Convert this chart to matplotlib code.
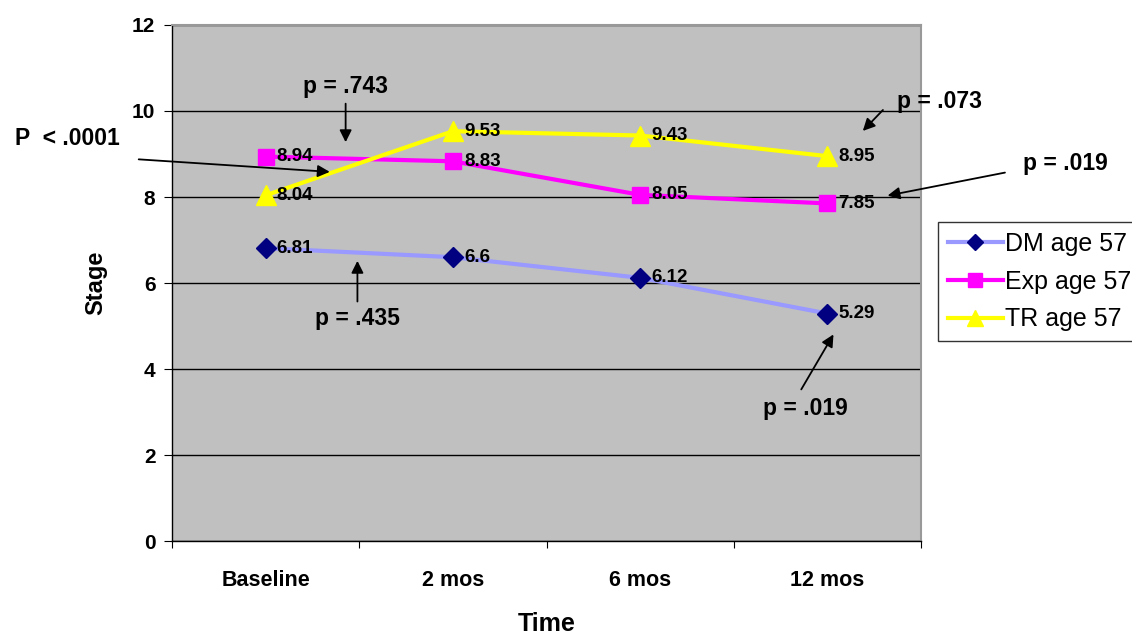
import matplotlib
matplotlib.use("Agg")
import matplotlib.pyplot as plt

plt.rcParams['font.family'] = ['Liberation Sans', 'DejaVu Sans']

categories = ["Baseline", "2 mos", "6 mos", "12 mos"]
dm = [6.81, 6.6, 6.12, 5.29]
exp = [8.94, 8.83, 8.05, 7.85]
tr = [8.04, 9.53, 9.43, 8.95]
series_names = ["DM age 57", "Exp age 57", "TR age 57"]
dm_labels = ["6.81", "6.6", "6.12", "5.29"]
exp_labels = ["8.94", "8.83", "8.05", "7.85"]
tr_labels = ["8.04", "9.53", "9.43", "8.95"]
yticks = [0, 2, 4, 6, 8, 10, 12]

fig = plt.figure(figsize=(11.32, 6.41), dpi=100)
ax = fig.add_axes([0.152, 0.156, 0.6616, 0.805])
ax.set_facecolor('#C0C0C0')
x = list(range(len(categories)))

ax.plot(x, dm, color='#9999FF', lw=3, marker='D', markersize=10,
        markerfacecolor='#000080', markeredgecolor='#000080', label=series_names[0], zorder=3)
ax.plot(x, exp, color='#FF00FF', lw=3, marker='s', markersize=12,
        markerfacecolor='#FF00FF', markeredgecolor='#FF00FF', label=series_names[1], zorder=3)
ax.plot(x, tr, color='#FFFF00', lw=3, marker='^', markersize=14,
        markerfacecolor='#FFFF00', markeredgecolor='#FFFF00', label=series_names[2], zorder=3)

for vals, labs in [(dm, dm_labels), (exp, exp_labels), (tr, tr_labels)]:
    for xi, v, l in zip(x, vals, labs):
        ax.annotate(l, (xi, v), xytext=(8, 0), textcoords='offset points',
                    ha='left', va='center', fontsize=13.5, fontweight='bold', zorder=4)

ax.set_xlim(-0.5, 3.5)
ax.set_ylim(0, 12)
ax.set_yticks(yticks)
ax.set_yticklabels([str(t) for t in yticks], fontsize=15, fontweight='bold')
ax.yaxis.grid(True, color='black', lw=1)
ax.set_axisbelow(True)
ax.set_xticks([-0.5, 0.5, 1.5, 2.5, 3.5])
ax.set_xticklabels([])
ax.set_xticks(x, minor=True)
ax.set_xticklabels(categories, minor=True, fontsize=15.5, fontweight='bold')
ax.tick_params(axis='x', which='minor', length=0, pad=21)
ax.tick_params(axis='x', which='major', length=5, direction='out')
ax.tick_params(axis='y', length=6, direction='out', pad=6)
for s in ['left', 'bottom']:
    ax.spines[s].set_color('black')
    ax.spines[s].set_linewidth(1)
for s in ['right', 'top']:
    ax.spines[s].set_color('#999999')
    ax.spines[s].set_linewidth(1.5)

ax.set_ylabel('Stage', fontsize=17, fontweight='bold', labelpad=18)
ax.set_xlabel('Time', fontsize=18, fontweight='bold', labelpad=15)

akw = dict(arrowstyle='-|>', color='black', lw=1.3, mutation_scale=18)
fs = 16.5
tkw = dict(fontsize=fs, fontweight='bold', annotation_clip=False)
ax.annotate('p = .743', xy=(0.427, 9.21), xytext=(0.427, 10.3), ha='center', va='bottom',
            arrowprops=akw, **tkw)
ax.annotate('', xy=(0.357, 8.58), xytext=(-0.693, 8.88), arrowprops=akw, annotation_clip=False)
ax.text(-1.34, 9.35, 'P  < .0001', ha='left', va='center', fontsize=fs, fontweight='bold', clip_on=False)
ax.annotate('p = .435', xy=(0.49, 6.58), xytext=(0.49, 5.44), ha='center', va='top',
            arrowprops=akw, **tkw)
ax.annotate('', xy=(3.179, 9.49), xytext=(3.307, 10.07), arrowprops=akw, annotation_clip=False)
ax.text(3.6, 10.23, 'p = .073', ha='center', va='center', fontsize=fs, fontweight='bold', clip_on=False)
ax.annotate('', xy=(3.307, 8.02), xytext=(3.963, 8.58), arrowprops=akw, annotation_clip=False)
ax.text(4.27, 8.79, 'p = .019', ha='center', va='center', fontsize=fs, fontweight='bold', clip_on=False)
ax.annotate('', xy=(3.04, 4.86), xytext=(2.853, 3.47), arrowprops=akw, annotation_clip=False)
ax.text(2.88, 3.09, 'p = .019', ha='center', va='center', fontsize=fs, fontweight='bold', clip_on=False)

leg = ax.legend(loc='upper left', bbox_to_anchor=(0.8286, 0.6537), bbox_transform=fig.transFigure,
                fontsize=18, frameon=True, fancybox=False, handlelength=2.2, handletextpad=0.1,
                borderpad=0.4, labelspacing=0.55, borderaxespad=0, markerscale=0.85)
leg.get_frame().set_edgecolor('black')
leg.get_frame().set_linewidth(1)

fig.savefig('out.png', dpi=100)
